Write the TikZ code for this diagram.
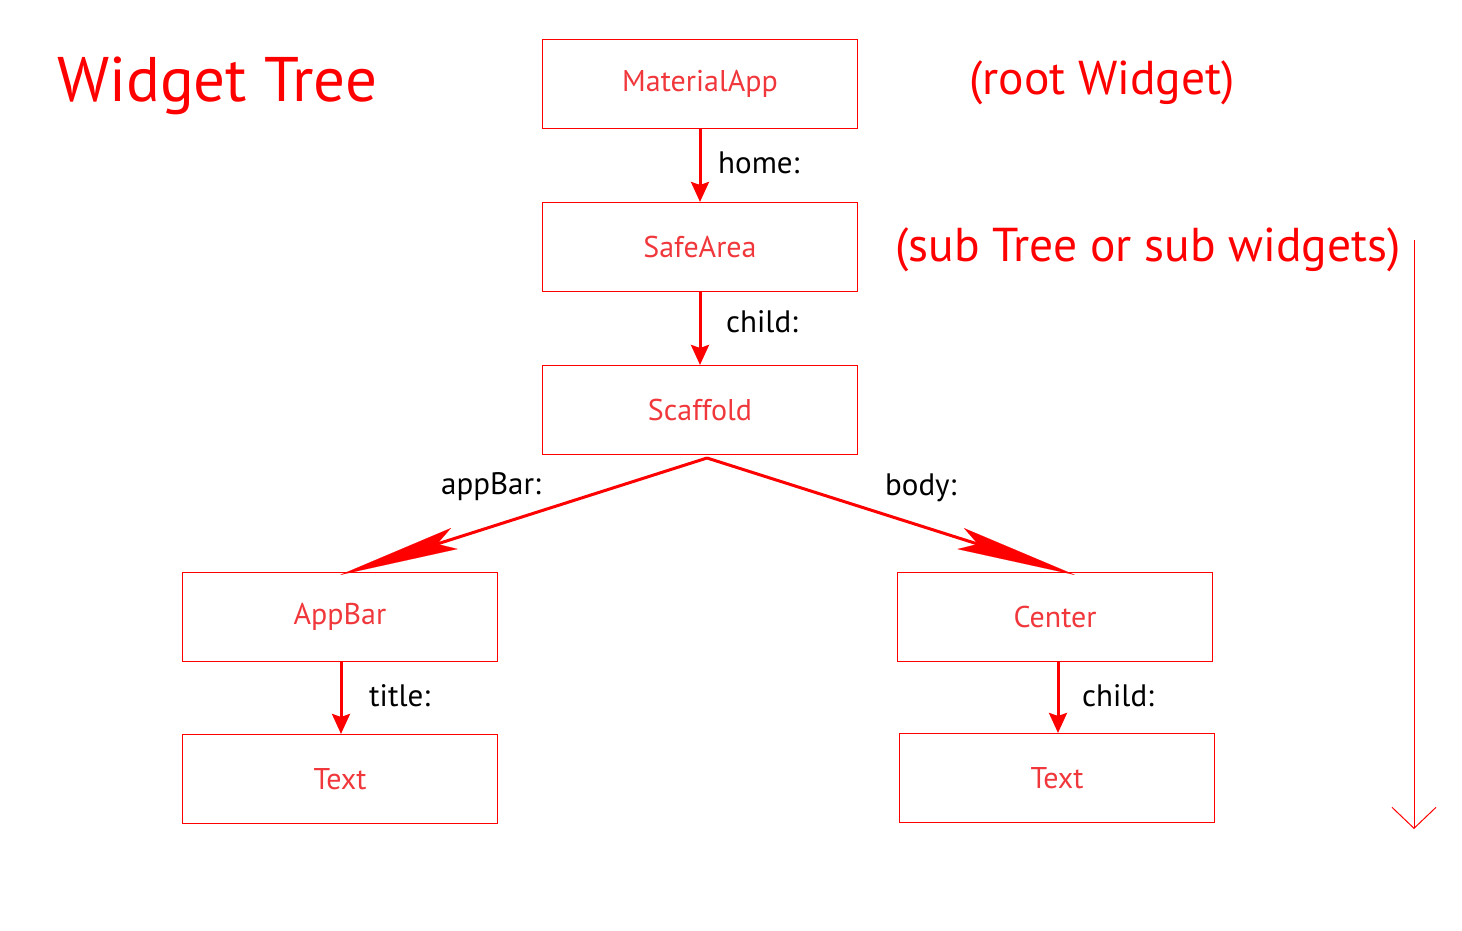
\documentclass[tikz,border=0pt]{standalone}
\usepackage{fontspec}
\setmainfont{PT Sans}
\usetikzlibrary{arrows.meta}
\usetikzlibrary{positioning}

\definecolor{treered}{RGB}{255,0,0}
\definecolor{boxred}{RGB}{240,56,60}

\begin{document}
\begin{tikzpicture}[
  x = 1pt, y = -1pt,
  > = {Stealth[length=20pt,width=18pt,inset=3pt]},
  box/.style = {draw=treered,line width=1.1pt,minimum width=315pt,minimum height=89pt,
                text=boxred,font=\fontsize{30}{36}\selectfont},
  lbl/.style = {anchor=west,inner sep=0pt,font=\fontsize{31}{36}\selectfont},
  link/.style = {->,draw=treered,line width=3pt},
  branch/.style = {-{Stealth[length=120pt,width=22pt,inset=18pt,line width=0.1pt]},draw=treered,line width=3pt},
  note/.style = {text=treered,inner sep=0pt,font=\fontsize{47.5}{56}\selectfont}
  ]
  \useasboundingbox (0,0) rectangle (1462,931);

  \node[note,anchor=base west,font=\fontsize{63}{76}\selectfont] (title) at (57,102) {Widget Tree};
  \node[note] (root) at (1102,83) {(root Widget)};
  \node[note] (sub) at (1148,250) {(sub Tree or sub widgets)};

  \node[box] (material) at (700,84) {MaterialApp};
  \node[box] (safe) at (700,247) {SafeArea};
  \node[box] (scaffold) at (700,410) {Scaffold};
  \node[box] (appbar) at (340,617) {AppBar};
  \node[box] (textl) at (340,779) {Text};
  \node[box] (center) at (1055,617) {Center};
  \node[box] (textr) at (1057,778) {Text};

  \draw[link] (material) -- (safe);
  \node[lbl] (home) at (718,163) {home:};
  \draw[link] (safe) -- (scaffold);
  \node[lbl] (child1) at (726,322) {child:};

  \coordinate (split) at (707,458);
  \draw[branch] (split) -- ([yshift=-3pt]appbar.north);
  \draw[branch] (split) -- ([xshift=20pt,yshift=-3pt]center.north);
  \node[lbl] (appbarlbl) at (441,487) {appBar:};
  \node[lbl] (bodylbl) at (885,488) {body:};

  \draw[link] ([xshift=1pt]appbar.south) -- ([xshift=1pt]textl.north);
  \node[lbl] (titlelbl) at (369,696) {title:};
  \draw[link] ([xshift=3pt]center.south) -- ([xshift=1pt]textr.north);
  \node[lbl] (child2) at (1082,696) {child:};

  % depth direction
  \coordinate (depthtop) at (1414,240);
  \coordinate (depthend) at (1414,829);
  \draw[treered,line width=1pt,-{Straight Barb[length=21pt,width=44pt,line width=1pt]}] (depthtop) -- (depthend);
\end{tikzpicture}
\end{document}
